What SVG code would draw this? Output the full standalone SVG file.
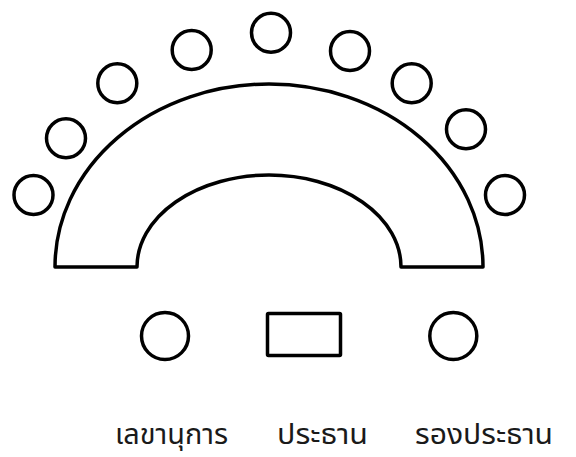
<svg xmlns="http://www.w3.org/2000/svg" width="576" height="457" viewBox="0 0 576 457">
<style>
.s{fill:#fff;stroke:#000;stroke-width:3.5;stroke-linejoin:round}
.c{fill:#fff;stroke:#000;stroke-width:3.5}
.t{font-family:"Noto Sans Thai","Noto Sans","DejaVu Sans",sans-serif;font-size:28px;fill:#1a1a1a}
</style>
<rect width="576" height="457" fill="#fff"/>
<g id="table"><path class="s" d="M55 267 A214 183 0 0 1 483 267 L401 267 A132 92 0 0 0 137 267 Z"/></g>
<g id="seats">
<circle class="c" cx="33.5" cy="195" r="19.5"/>
<circle class="c" cx="66" cy="138.3" r="19.5"/>
<circle class="c" cx="117.3" cy="83.3" r="19.5"/>
<circle class="c" cx="191.7" cy="50" r="19.5"/>
<circle class="c" cx="271" cy="32.7" r="19.5"/>
<circle class="c" cx="350" cy="51" r="19.5"/>
<circle class="c" cx="411.7" cy="83.3" r="19.5"/>
<circle class="c" cx="466" cy="129.3" r="19.5"/>
<circle class="c" cx="505" cy="195" r="19.5"/>
</g>
<g id="secretary"><circle class="c" cx="165" cy="336" r="23.5"/><text class="t" x="115" y="444" textLength="113" lengthAdjust="spacingAndGlyphs">เลขานุการ</text></g>
<g id="chair"><rect class="s" x="267.5" y="313.5" width="73" height="42" rx="1"/><text class="t" x="277" y="444" textLength="91" lengthAdjust="spacingAndGlyphs">ประธาน</text></g>
<g id="vicechair"><circle class="c" cx="453.3" cy="336" r="23.5"/><text class="t" x="415" y="444" textLength="138" lengthAdjust="spacingAndGlyphs">รองประธาน</text></g>
<g id="connectors"/>
</svg>
